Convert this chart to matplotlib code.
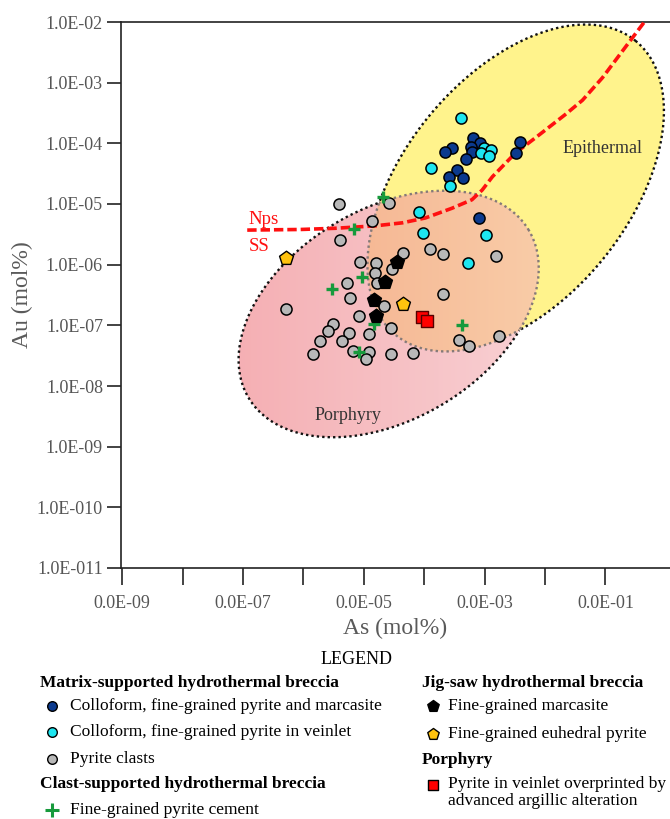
#!/usr/bin/env python3
"""Au vs As (mol%) in pyrite, epithermal / porphyry fields."""

import numpy as np
import matplotlib
matplotlib.use("Agg")
import matplotlib.pyplot as plt
from matplotlib.colors import LinearSegmentedColormap
from matplotlib.patches import Polygon
from matplotlib.ticker import FixedLocator, FixedFormatter, NullLocator

plt.rcParams["font.family"] = ["Liberation Serif", "DejaVu Serif"]

# values are log10(mol%)
blue_as = [-3.19, -3.07, -3.22, -3.21, -3.54, -3.65, -3.30, -3.45, -3.59, -3.35, -2.41, -2.48, -3.09]
blue_au = [-3.91, -3.99, -4.06, -4.14, -4.08, -4.14, -4.26, -4.44, -4.55, -4.57, -3.98, -4.16, -5.23]

cyan_as = [-3.39, -3.88, -3.57, -3.01, -2.89, -3.06, -2.92, -4.08, -4.02, -2.97, -3.27]
cyan_au = [-3.58, -4.41, -4.70, -4.08, -4.11, -4.16, -4.21, -5.13, -5.48, -5.51, -5.97]

grey_as = [-5.41, -4.58, -4.86, -5.39, -4.35, -3.90, -3.69, -2.81, -5.06, -4.79, -4.81, -4.53,
           -5.27, -4.78, -3.69, -5.23, -6.28, -4.66, -5.08, -5.51, -5.59, -5.24, -4.91, -4.55,
           -5.72, -5.36, -5.18, -4.91, -4.96, -5.84, -4.55, -4.18, -3.42, -3.26, -2.76]
grey_au = [-5.00, -4.98, -5.28, -5.59, -5.81, -5.74, -5.82, -5.86, -5.96, -5.97, -6.14, -6.07,
           -6.30, -6.30, -6.48, -6.55, -6.73, -6.68, -6.85, -6.98, -7.09, -7.13, -7.14, -7.04,
           -7.26, -7.26, -7.42, -7.44, -7.55, -7.47, -7.47, -7.46, -7.24, -7.34, -7.18]

green_as = [-4.68, -5.16, -5.03, -5.52, -4.83, -5.08, -3.37]
green_au = [-4.88, -5.41, -6.20, -6.40, -6.98, -7.44, -6.99]

black_as = [-4.45, -4.65, -4.83, -4.79]
black_au = [-5.96, -6.29, -6.58, -6.85]

gold_as = [-6.28, -4.35]
gold_au = [-5.89, -6.65]

red_as = [-4.03, -3.95]
red_au = [-6.86, -6.93]

# Nps / SS boundary
nps_as = [-6.93, -6.05, -5.47, -4.81, -4.36, -3.98, -3.54, -3.21, -3.04, -2.87, -2.49,
          -2.16, -1.67, -1.38, -1.05, -0.62, -0.37, -0.26]
nps_au = [-5.43, -5.42, -5.40, -5.36, -5.31, -5.23, -5.07, -4.93, -4.77, -4.55, -4.16,
          -3.91, -3.53, -3.29, -2.92, -2.35, -2.02, -1.84]

x_ticks = [1e-9, 1e-8, 1e-7, 1e-6, 1e-5, 1e-4, 1e-3, 1e-2, 1e-1]
x_labels = ["0.0E-09", "", "0.0E-07", "", "0.0E-05", "", "0.0E-03", "", "0.0E-01"]
y_ticks = [1e-11, 1e-10, 1e-9, 1e-8, 1e-7, 1e-6, 1e-5, 1e-4, 1e-3, 1e-2]
y_labels = ["1.0E-011", "1.0E-010", "1.0E-09", "1.0E-08", "1.0E-07", "1.0E-06",
            "1.0E-05", "1.0E-04", "1.0E-03", "1.0E-02"]

# fields (log10 centre, semi-axes in decades, tilt in degrees)
EPI = (-2.485, -4.736, 3.134, 1.861, 50.6)
POR = (-4.588, -6.813, 2.70, 1.736, 30.7)


def ellipse(e, n=600):
    cx, cy, a, b, ang = e
    t = np.linspace(0, 2 * np.pi, n)
    th = np.radians(ang)
    lx = cx + a * np.cos(t) * np.cos(th) - b * np.sin(t) * np.sin(th)
    ly = cy + a * np.cos(t) * np.sin(th) + b * np.sin(t) * np.cos(th)
    return lx, ly


def inside(lx, ly, e):
    cx, cy, a, b, ang = e
    th = np.radians(ang)
    dx, dy = lx - cx, ly - cy
    u = dx * np.cos(th) + dy * np.sin(th)
    v = -dx * np.sin(th) + dy * np.cos(th)
    return (u / a) ** 2 + (v / b) ** 2 < 1


W, H = 670, 819
fig = plt.figure(figsize=(W / 100, H / 100), dpi=100)
ax = fig.add_axes([121 / W, (H - 568) / H, (W - 121) / W, 546 / H])
ax.set_xscale("log")
ax.set_yscale("log")
XLO, XHI = -9.02, 0.07
ax.set_xlim(10 ** XLO, 10 ** XHI)
ax.set_ylim(1e-11, 1e-2)

# epithermal field
ex, ey = ellipse(EPI)
epi_patch = Polygon(np.c_[10 ** ex, 10 ** ey], closed=True, facecolor="#fff38c",
                    edgecolor="none", zorder=1)
ax.add_patch(epi_patch)

# porphyry field, pink gradient laid over
px, py = ellipse(POR)
por_patch = Polygon(np.c_[10 ** px, 10 ** py], closed=True, facecolor="none",
                    edgecolor="none", zorder=2)
ax.add_patch(por_patch)
pink = LinearSegmentedColormap.from_list("pink", ["#ef7f86", "#f5b4b9"])
fx0 = (px.min() - XLO) / (XHI - XLO)
fx1 = (px.max() - XLO) / (XHI - XLO)
grad = np.linspace(0, 1, 256)[None, :]
im = ax.imshow(grad, extent=(fx0, fx1, 0, 1), transform=ax.transAxes, aspect="auto",
               cmap=pink, alpha=0.62, zorder=2, interpolation="bilinear")
im.set_clip_path(por_patch)

# dotted outlines, faded where they run inside the other field
dot = (0, (1, 1.3))
for lx, ly, other in [(ex, ey, POR), (px, py, EPI)]:
    m = inside(lx, ly, other)
    xs, ys = 10 ** lx, 10 ** ly
    ax.plot(np.where(m, np.nan, xs), ys, color="#111111", lw=1.7, ls=dot, zorder=3)
    ax.plot(np.where(m, xs, np.nan), ys, color="#857a78", lw=1.7, ls=dot, zorder=3)

ax.plot(10 ** np.array(nps_as), 10 ** np.array(nps_au), color="#ff1010", lw=2.6,
        ls=(0, (2.6, 1.1)), zorder=4)
ax.text(10 ** -6.91, 10 ** -5.25, "Nps", color="#ff1010", fontsize=13.5, va="center", zorder=4)
ax.text(10 ** -6.91, 10 ** -5.70, "SS", color="#ff1010", fontsize=13.5, va="center", zorder=4)
ax.text(10 ** -1.05, 10 ** -4.08, "Epithermal", color="#333333", fontsize=13,
        ha="center", va="center", zorder=4)
ax.text(10 ** -5.27, 10 ** -8.49, "Porphyry", color="#333333", fontsize=13,
        ha="center", va="center", zorder=4)


def pts(xs, ys, **kw):
    ax.scatter(10 ** np.array(xs), 10 ** np.array(ys), **kw)


pts(blue_as, blue_au, s=64, marker="o", c="#0b3a8e", edgecolors="black", linewidths=1.1, zorder=5)
pts(cyan_as, cyan_au, s=64, marker="o", c="#1de6f0", edgecolors="black", linewidths=1.1, zorder=6)
pts(grey_as, grey_au, s=64, marker="o", c="#b8b8b8", edgecolors="black", linewidths=1.1, zorder=6)
pts(green_as, green_au, s=85, marker="+", c="#179a3c", linewidths=2.4, zorder=7)
pts(black_as, black_au, s=110, marker="p", c="black", edgecolors="black", linewidths=1.0, zorder=7)
pts(gold_as, gold_au, s=110, marker="p", c="#ffc20e", edgecolors="black", linewidths=1.0, zorder=7)
pts(red_as, red_au, s=64, marker="s", c="#ff0000", edgecolors="#550000", linewidths=1.0, zorder=8)

# axes styling
for side in ["left", "bottom", "top"]:
    ax.spines[side].set_linewidth(1.2)
    ax.spines[side].set_color("#222222")
ax.spines["right"].set_visible(False)
ax.xaxis.set_major_locator(FixedLocator(x_ticks))
ax.xaxis.set_major_formatter(FixedFormatter(x_labels))
ax.yaxis.set_major_locator(FixedLocator(y_ticks))
ax.yaxis.set_major_formatter(FixedFormatter(y_labels))
ax.xaxis.set_minor_locator(NullLocator())
ax.yaxis.set_minor_locator(NullLocator())
ax.tick_params(axis="x", direction="out", length=12.5, width=1.2, color="#222222",
               labelsize=13, labelcolor="#555555", pad=7)
ax.tick_params(axis="y", direction="out", length=10, width=1.2, color="#222222",
               labelsize=13, labelcolor="#555555", pad=3)
ax.set_xlabel("As (mol%)", fontsize=17, color="#5a5a5a", labelpad=4)
ax.set_ylabel("Au (mol%)", fontsize=17, color="#5a5a5a", labelpad=3)

# legend block, in figure pixels
lax = fig.add_axes([0, 0, 1, 200 / H])
lax.set_xlim(0, W)
lax.set_ylim(H, H - 200)
lax.axis("off")

lax.text(357, 660, "LEGEND", fontsize=13, ha="center", va="center")
heads = [(40, 683, "Matrix-supported hydrothermal breccia"),
         (40, 784, "Clast-supported hydrothermal breccia"),
         (422, 683, "Jig-saw hydrothermal breccia"),
         (422, 760, "Porphyry")]
for x, y, s in heads:
    lax.text(x, y, s, fontsize=12.5, fontweight="bold", va="center")

items = [(52, 706, "o", "#0b3a8e", "Colloform, fine-grained pyrite and marcasite"),
         (52, 732, "o", "#1de6f0", "Colloform, fine-grained pyrite in veinlet"),
         (52, 759, "o", "#b8b8b8", "Pyrite clasts"),
         (52, 810, "+", "#179a3c", "Fine-grained pyrite cement"),
         (433, 706, "p", "black", "Fine-grained marcasite"),
         (433, 734, "p", "#ffc20e", "Fine-grained euhedral pyrite"),
         (433, 785, "s", "#ff0000", "Pyrite in veinlet overprinted by\nadvanced argillic alteration")]
for x, y, mk, col, s in items:
    if mk == "+":
        lax.scatter([x], [y], s=110, marker=mk, c=col, linewidths=2.2)
    else:
        size = {"o": 48, "p": 75, "s": 52}[mk]
        lax.scatter([x], [y], s=size, marker=mk, c=col, edgecolors="black", linewidths=1.0)
    tx = 70 if x < 200 else 448
    if "\n" in s:
        lax.text(tx, y - 9, s, fontsize=12.5, va="top", linespacing=1.05)
    else:
        lax.text(tx, y, s, fontsize=12.5, va="center")

fig.savefig("out.png", dpi=100)
